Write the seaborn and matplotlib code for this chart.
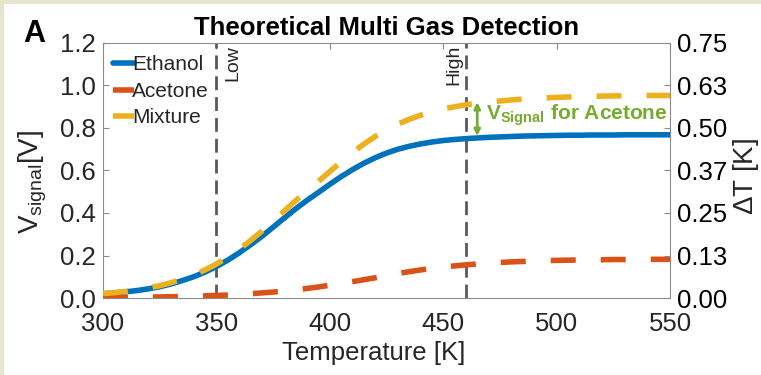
import matplotlib
matplotlib.use("Agg")
import matplotlib.pyplot as plt
from matplotlib.patches import Rectangle
import pandas as pd
import seaborn as sns

# Sensor temperature sweep [K]
temperature = [300, 305, 310, 315, 320, 325, 330, 335, 340, 345, 350, 355, 360,
               365, 370, 375, 380, 385, 390, 395, 400, 405, 410, 415, 420, 425,
               430, 435, 440, 445, 450, 455, 460, 465, 470, 475, 480, 485, 490,
               495, 500, 505, 510, 515, 520, 525, 530, 535, 540, 545, 550]

# Signal voltage [V] for each gas
ethanol = [0.020, 0.024, 0.029, 0.035, 0.043, 0.053, 0.066, 0.082, 0.100, 0.122,
           0.148, 0.178, 0.212, 0.250, 0.290, 0.333, 0.377, 0.420, 0.460, 0.497,
           0.535, 0.571, 0.604, 0.634, 0.660, 0.682, 0.700, 0.714, 0.725, 0.734,
           0.741, 0.746, 0.750, 0.753, 0.756, 0.758, 0.760, 0.762, 0.763, 0.764,
           0.765, 0.766, 0.766, 0.767, 0.767, 0.767, 0.768, 0.768, 0.768, 0.768,
           0.768]
acetone = [0.000, 0.001, 0.002, 0.003, 0.004, 0.005, 0.006, 0.007, 0.009, 0.010,
           0.012, 0.014, 0.017, 0.020, 0.024, 0.028, 0.033, 0.039, 0.045, 0.052,
           0.060, 0.068, 0.077, 0.086, 0.095, 0.105, 0.115, 0.124, 0.132, 0.140,
           0.146, 0.151, 0.156, 0.160, 0.164, 0.167, 0.170, 0.172, 0.174, 0.176,
           0.177, 0.178, 0.179, 0.180, 0.180, 0.181, 0.181, 0.181, 0.182, 0.182,
           0.182]
mixture = [0.021, 0.025, 0.031, 0.038, 0.047, 0.058, 0.072, 0.089, 0.109, 0.132,
           0.160, 0.192, 0.229, 0.270, 0.314, 0.361, 0.410, 0.459, 0.505, 0.549,
           0.595, 0.640, 0.684, 0.724, 0.760, 0.791, 0.818, 0.841, 0.860, 0.877,
           0.890, 0.900, 0.909, 0.916, 0.922, 0.927, 0.932, 0.936, 0.939, 0.942,
           0.944, 0.946, 0.947, 0.949, 0.950, 0.951, 0.952, 0.952, 0.953, 0.953,
           0.953]

gases = ["Ethanol", "Acetone", "Mixture"]
colors = {"Ethanol": "#0072BD", "Acetone": "#D95319", "Mixture": "#EDB120"}

# Operating points
t_low, t_high = 350, 460

# Axis ticks
x_ticks = [300, 350, 400, 450, 500, 550]
y_ticks = [0.0, 0.2, 0.4, 0.6, 0.8, 1.0, 1.2]
dt_ticks = [0.0, 0.125, 0.25, 0.375, 0.5, 0.625, 0.75]
dt_labels = ["0.00", "0.13", "0.25", "0.37", "0.50", "0.63", "0.75"]

df = pd.DataFrame({
    "Temperature": temperature * 3,
    "V": ethanol + acetone + mixture,
    "Gas": [g for g in gases for _ in temperature],
})

sns.set_style("white")
plt.rcParams["font.family"] = ["Liberation Sans", "DejaVu Sans"]
plt.rcParams["mathtext.fontset"] = "custom"
plt.rcParams["mathtext.rm"] = "Liberation Sans"
plt.rcParams["mathtext.it"] = "Liberation Sans:italic"
plt.rcParams["mathtext.bf"] = "Liberation Sans:bold"

txt = "#262626"
spine = "#8c8c8c"

fig = plt.figure(figsize=(7.61, 3.75), dpi=100)
fig.patch.set_facecolor("white")
beige = "#e7e4d0"
fig.patches.append(Rectangle((0, 0), 4 / 761, 1, transform=fig.transFigure,
                             facecolor=beige, edgecolor="none", zorder=-10))
fig.patches.append(Rectangle((0, 1 - 4 / 375), 1, 4 / 375, transform=fig.transFigure,
                             facecolor=beige, edgecolor="none", zorder=-10))

ax = fig.add_axes([103 / 761, 1 - 298 / 375, 567 / 761, 255 / 375])

# Low / High operating temperatures
for t in (t_low, t_high):
    ax.axvline(t, color="#5a5a5a", lw=2, ls=(0, (5, 2.5)), zorder=1)

sns.lineplot(data=df, x="Temperature", y="V", hue="Gas", style="Gas",
             hue_order=gases, style_order=gases, palette=colors,
             dashes={"Ethanol": "", "Acetone": (4.5, 4.5), "Mixture": (4.5, 4.5)},
             linewidth=4, ax=ax, zorder=3)

ax.set_xlim(300, 550)
ax.set_ylim(0, 1.2)
ax.set_xticks(x_ticks)
ax.set_yticks(y_ticks)
ax.set_yticklabels([f"{v:.1f}" for v in y_ticks])
ax.tick_params(direction="in", length=4, width=0.8, color=spine, labelsize=18.5,
               labelcolor=txt, top=True, right=False, pad=5)
ax.tick_params(axis="x", pad=10)
for s in ax.spines.values():
    s.set_color(spine)
    s.set_linewidth(0.8)

ax.set_xlabel("Temperature [K]", fontsize=18.5, color=txt)
ax.xaxis.set_label_coords(0.478, -0.17)
ax.set_ylabel(r"$\mathrm{V_{signal}}$[V]", fontsize=20, color=txt)
ax.yaxis.set_label_coords(-0.095, 0.457)
ax.set_title("Theoretical Multi Gas Detection", fontsize=18.5, fontweight="bold",
             color="black", pad=6)

handles, labels = ax.get_legend_handles_labels()
ax.legend(handles, labels, loc="upper left", bbox_to_anchor=(0.011, 0.968),
          frameon=False, fontsize=15, handlelength=1.0, handletextpad=-0.1,
          labelspacing=0.36, borderaxespad=0.0, borderpad=0.2)

# Operating point labels
ax.text(t_low + 3.5, 1.19, "Low", rotation=90, ha="left", va="top",
        fontsize=14, color=txt)
ax.text(t_high - 1.5, 1.19, "High", rotation=90, ha="right", va="top",
        fontsize=14, color=txt)

# Acetone contribution at the high temperature
green = "#77AC30"
ax.annotate("", xy=(465, 0.922), xytext=(465, 0.762),
            arrowprops=dict(arrowstyle="<|-|>", color=green, lw=2,
                            mutation_scale=9, shrinkA=0, shrinkB=0))
ax.text(469, 0.838, r"$\mathbf{V}_{\mathbf{Signal}}$ for Acetone", ha="left",
        va="baseline", fontsize=15, fontweight="bold", color=green)

# Temperature-difference axis
ax2 = ax.twinx()
ax2.set_ylim(0, 0.75)
ax2.set_yticks(dt_ticks)
ax2.set_yticklabels(dt_labels)
ax2.tick_params(direction="in", length=4, width=0.8, color=spine, labelsize=18.5,
                labelcolor="black", pad=5)
for s in ax2.spines.values():
    s.set_visible(False)
ax2.set_ylabel(r"$\Delta$T [K]", fontsize=20, color=txt)
ax2.yaxis.set_label_coords(1.108, 0.478)

fig.text(23 / 761, 1 - 42 / 375, "A", fontsize=22, fontweight="bold",
         color="black", ha="left", va="baseline")

fig.savefig("out.png", dpi=100, facecolor=fig.get_facecolor())
